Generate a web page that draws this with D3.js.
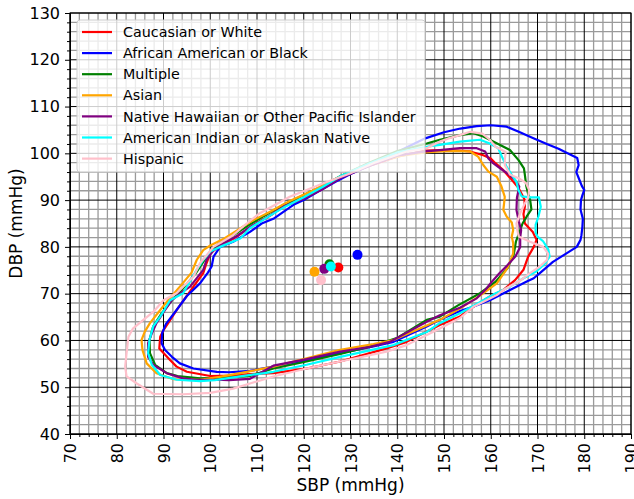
<!DOCTYPE html>
<html>
<head>
<meta charset="utf-8">
<script src="https://cdn.jsdelivr.net/npm/d3@7"></script>
<style>
  body { margin: 0; background: #fff; }
  text { font-family: "DejaVu Sans", sans-serif; fill: #000; }
</style>
</head>
<body>
<div id="chart"></div>
<script>
// groups in legend order
const groups = ['Caucasian or White', 'African American or Black', 'Multiple', 'Asian',
    'Native Hawaiian or Other Pacific Islander', 'American Indian or Alaskan Native', 'Hispanic']
const colors = ['#ff0000', '#0000ff', '#008000', '#ffa500', '#800080', '#00ffff', '#ffc0cb']

// contour outlines, [SBP, DBP]
const whiteContour = [[140,99.3],[146,100.6],[150,100.7],[153,100.6],[155.6,100.4],[158.4,99.6],[160,98.9],[161,97.9],[162.5,96.6],[164.1,94.8],[166,92.5],[167.2,90.2],[167.3,88.6],[167,87],[167.3,85],[169,83.2],[169.8,81.5],[169.2,80],[168,77.9],[167,75.1],[165.2,72.9],[162.7,70.8],[159.8,69.4],[156.3,67.2],[153.4,65.1],[149.1,63.3],[142,59.7],[137.7,58.3],[127.8,55.5],[120.6,54],[113.5,53],[108.5,52.8],[104,52.5],[100,52.4],[95,53.3],[92.8,54.4],[91.4,55.8],[90,57.3],[89.1,58.3],[89.3,60.8],[90,62.2],[91,63.7],[92.8,66.5],[96.4,71.5],[98.5,74.4],[99.2,76.5],[100,78.6],[102,80.2],[105,81.8],[108,83.8],[110.6,85.5],[113,86.8],[115.6,89],[119.2,90],[124.2,92.5],[127.8,95],[133,97]]
const blackContour = [[146,103.2],[150,104.5],[153.5,105.3],[157,105.8],[160,106],[163.4,105.7],[166,104.6],[169,103.3],[172,102],[174.5,101],[178.5,99],[178.8,97.5],[178.3,96],[178.7,95],[179.5,93],[180,92.2],[179.6,91],[179.3,90],[179.2,88],[179.7,86],[179.6,84.3],[179.4,82.5],[179.2,81.5],[178.4,80],[176.2,78.6],[173.3,76.8],[170.5,74.4],[169.2,73.3],[167.7,72.6],[163.4,70.4],[159.8,68.6],[156.2,67.2],[153.4,66.3],[149.1,64.4],[146.3,63],[139.2,59.7],[134.9,58.7],[127.8,57.3],[120.6,55.8],[117.1,55.1],[113.5,54.4],[108.5,53.5],[104,53.2],[101.4,53.3],[96.4,54],[93.5,55.1],[91.8,56.5],[90.3,58],[89.6,59.4],[89.7,61.5],[90.5,63.5],[92.8,66.5],[95,69.5],[97.8,72.2],[99.5,74.5],[100.3,75.8],[100.7,77.9],[102.1,80],[104.9,81.1],[108.5,83.2],[111,85],[113.5,86],[117.8,89],[120,90],[123,91.8],[127,94],[130,95.6],[135,97.8],[140,100.3]]
const multipleContour = [[149.1,102.9],[153.4,103.9],[156.3,104.3],[158.4,103.6],[160,102.8],[162,101.8],[164.1,100.7],[165.9,98.6],[167.1,96.8],[167.3,95.4],[167.6,93],[168,91.3],[168.4,90.2],[168.7,88],[167.7,86.5],[166.8,85],[166.3,83.6],[165.4,81.2],[164.9,78.3],[163.6,75.5],[161,72.5],[157.7,70.1],[153,67.5],[149.1,65.1],[146.3,64.4],[139.9,60.5],[134.9,58.9],[127.8,57.1],[120.6,55.5],[113.5,54],[108.5,52.4],[103,52],[97.8,51.9],[93,52.4],[90.7,53],[88.2,54.8],[87.1,57.3],[87,60.1],[87.8,63],[89.6,65.8],[91.8,68.6],[94.5,71.5],[97,74.5],[98.5,76.8],[100,79],[102,80.8],[105,82.5],[108,84.5],[111,86.3],[115,88.6],[119,90.6],[124,93],[128,95.2],[134,98],[140,100.5],[146.3,102.1]]
const asianContour = [[149.1,100.4],[152,100.5],[155.6,100.4],[157.3,99.3],[158.4,97.5],[159.5,96.1],[161.3,95],[162.3,92.9],[163,90.7],[162.7,87.9],[163.4,86.5],[164.5,85.2],[164.8,83.6],[164.5,82.2],[164.8,80.8],[164.8,78.6],[163.6,75.5],[161.3,72.2],[158,69.8],[153.4,66.8],[149.1,64.4],[146.3,63.2],[139.2,60.1],[134.9,59.2],[127.8,58],[120.6,56.2],[113.5,54.4],[106.4,53],[102,52.2],[97.8,51.6],[92.1,51.7],[88.5,53],[86.4,55.1],[85.5,58],[85.3,60.1],[86,61.9],[87.1,63.7],[89.3,66.5],[91,68.6],[93.5,71.5],[96,74.5],[97.1,77.2],[98.5,79.3],[100,80.3],[103,81.8],[106,83.7],[109,85.6],[113,87.6],[117,89.8],[121,91.6],[125,93.6],[129,95.6],[135,98],[141,99.5],[146,100.2]]
const nhpiContour = [[149.1,100.7],[153.4,101.1],[157,101.1],[158.8,100.4],[159.5,98.9],[160.5,97.9],[162.3,96.6],[164,95.4],[165.2,94.3],[166.1,92.9],[165.6,90.5],[165.5,87.9],[166,85.5],[166.5,83.6],[166.3,82],[166.3,80],[165.3,78],[163.5,76],[161.8,74.3],[160.2,72.5],[159,71],[157,69],[153.4,67],[149.1,65.4],[146.3,64],[138.4,59.7],[134,58.6],[127.8,57.6],[120.6,56],[113.5,54.6],[108.5,51.8],[104,51.5],[101.4,51.6],[97,51.6],[94.2,51.9],[90.7,53],[87.8,54.8],[86.7,56.5],[86.7,59.4],[87.5,61.5],[88.5,63.7],[90.3,66.5],[91.8,68.6],[93.5,70],[95.7,71.5],[98.5,75.1],[99.2,77.2],[100.7,79.3],[103,80.9],[106,82.5],[109,84.6],[112,86.2],[116,88.8],[120,90.3],[124,92.3],[128,94.8],[134,97.3],[140,99.5],[146,100.4]]
const aianContour = [[149.1,101.8],[153.4,102.5],[157.7,102.9],[159.8,102.1],[161.6,101.1],[162.3,99.5],[163.4,97.1],[164.5,95.4],[165.5,93.9],[165.9,92.2],[166.6,90.8],[168.5,90.6],[170.3,90.6],[170.7,88.6],[170.2,86.5],[169.6,84.7],[169.6,83],[170,82.2],[171.2,81.2],[172.3,79.5],[172.6,77.9],[171.5,76.3],[169.8,74.8],[167,73.3],[164.1,71.5],[160.5,69.8],[157,67.8],[153.4,65.8],[149.1,63.7],[146.3,61.8],[139.2,59],[127.8,56.5],[120.6,54.8],[113.5,53.3],[106.4,52.3],[101,51.5],[97.8,51.3],[92.8,51.6],[89.3,52.6],[87.5,54.8],[86.7,57.3],[87,60.1],[87.8,63],[89.3,65.1],[91.4,68.6],[94.2,70.1],[97.1,75.1],[98.5,77.2],[100,79],[102.1,80],[106.4,81.8],[108.5,84],[112,86.2],[116,88.6],[120,90.6],[124,92.8],[128,95.2],[134,97.8],[140,100.2],[146.3,101.4]]
const hispanicContour = [[149.1,102.5],[151,103.2],[153.4,103.9],[155.6,104.6],[158.2,104.2],[159.8,102.9],[161,101.4],[163.2,100.3],[163,98.6],[163,97.5],[164.1,95.5],[166.3,94.5],[167.5,93.7],[168.2,92.2],[168,90.5],[167.3,89.3],[166.3,87.2],[165.5,85],[165.7,83.5],[166,82.2],[168.4,81.1],[171.2,80],[172.3,78.5],[172,77.2],[170.5,75.8],[168.4,74.4],[166.3,72.8],[162.7,70.8],[161.3,69.7],[157.7,67.9],[156.3,67.2],[153.4,64.8],[149,62.5],[142,59],[137.7,57.6],[127.8,55.5],[120.6,54],[113.5,52.3],[108.5,50.8],[104.9,49.7],[100,48.8],[94.2,48.5],[87.8,48.6],[84.3,50.8],[82.1,52.3],[81.8,54.4],[82.1,57.3],[82.5,60.8],[83.5,62.6],[85.7,64.4],[87.8,66.1],[90,68.6],[92.8,70.1],[96.4,73.6],[97.8,76.5],[100.7,80],[104.9,82.5],[107.8,85],[110.6,87.2],[117,90.7],[124.2,93.6],[129.9,95.7],[134.9,97.9],[142,100.4],[146.3,101.1]]

// group means, [SBP, DBP]
const groupMeans = [[127.4,75.6],[131.5,78.3],[125.5,76.3],[122.3,74.7],[124.4,75.3],[125.8,75.8],[123.7,72.9]]

const contours = [whiteContour, blackContour, multipleContour, asianContour, nhpiContour, aianContour, hispanicContour]

const xTicks = d3.range(70, 191, 10)
const yTicks = d3.range(40, 131, 10)

let width = 634
let height = 499
let margin = { top: 13, right: 3, bottom: 65, left: 70 }

let svg = d3.select('#chart')
    .append('svg')
    .attr('width', width)
    .attr('height', height)

let xScale = d3.scaleLinear()
    .domain([70, 190])
    .range([margin.left, width - margin.right])

let yScale = d3.scaleLinear()
    .domain([40, 130])
    .range([height - margin.bottom, margin.top])

// grid: minor every 2, major every 10
let xMinor = d3.range(70, 191, 2).filter(d => d % 10 != 0)
let yMinor = d3.range(40, 131, 2).filter(d => d % 10 != 0)

let grid = svg.append('g')
grid.selectAll('.vminor').data(xMinor).join('line')
    .attr('x1', d => xScale(d)).attr('x2', d => xScale(d))
    .attr('y1', yScale(40)).attr('y2', yScale(130))
    .attr('stroke', '#9a9a9a').attr('stroke-width', 1.3)
grid.selectAll('.hminor').data(yMinor).join('line')
    .attr('y1', d => yScale(d)).attr('y2', d => yScale(d))
    .attr('x1', xScale(70)).attr('x2', xScale(190))
    .attr('stroke', '#9a9a9a').attr('stroke-width', 1.3)
grid.selectAll('.vmajor').data(xTicks).join('line')
    .attr('x1', d => xScale(d)).attr('x2', d => xScale(d))
    .attr('y1', yScale(40)).attr('y2', yScale(130))
    .attr('stroke', '#000').attr('stroke-width', 1)
grid.selectAll('.hmajor').data(yTicks).join('line')
    .attr('y1', d => yScale(d)).attr('y2', d => yScale(d))
    .attr('x1', xScale(70)).attr('x2', xScale(190))
    .attr('stroke', '#000').attr('stroke-width', 1)

// contours
let line = d3.line()
    .x(d => xScale(d[0]))
    .y(d => yScale(d[1]))
    .curve(d3.curveLinearClosed)

contours.forEach((c, i) => {
    svg.append('path')
        .datum(c)
        .attr('d', line)
        .attr('fill', 'none')
        .attr('stroke', colors[i])
        .attr('stroke-width', 2.2)
        .attr('stroke-linejoin', 'round')
})

svg.selectAll('.mean').data(groupMeans).join('circle')
    .attr('cx', d => xScale(d[0]))
    .attr('cy', d => yScale(d[1]))
    .attr('r', 5)
    .attr('fill', (d, i) => colors[i])

// axes
let xAxisEl = svg.append('g')
    .attr('transform', `translate(0,${yScale(40)})`)
    .call(d3.axisBottom(xScale).tickValues(xTicks).tickSize(5).tickPadding(4))
xAxisEl.selectAll('text')
    .attr('font-size', 16)
    .attr('text-anchor', 'end')
    .attr('transform', 'rotate(-90)')
    .attr('x', -9).attr('y', 0).attr('dy', '0.35em')
svg.append('g')
    .attr('transform', `translate(0,${yScale(40)})`)
    .call(d3.axisBottom(xScale).tickValues(xMinor).tickSize(3).tickFormat(''))

let yAxisEl = svg.append('g')
    .attr('transform', `translate(${xScale(70)},0)`)
    .call(d3.axisLeft(yScale).tickValues(yTicks).tickSize(5).tickPadding(5))
yAxisEl.selectAll('text').attr('font-size', 16)
svg.append('g')
    .attr('transform', `translate(${xScale(70)},0)`)
    .call(d3.axisLeft(yScale).tickValues(yMinor).tickSize(3).tickFormat(''))

svg.selectAll('.domain').attr('stroke', '#000')

// top and right spines
svg.append('rect')
    .attr('x', xScale(70)).attr('y', yScale(130))
    .attr('width', xScale(190) - xScale(70))
    .attr('height', yScale(40) - yScale(130))
    .attr('fill', 'none').attr('stroke', '#000').attr('stroke-width', 1)

svg.append('text')
    .attr('x', (xScale(70) + xScale(190)) / 2)
    .attr('y', 491)
    .attr('text-anchor', 'middle')
    .attr('font-size', 17)
    .text('SBP (mmHg)')

svg.append('text')
    .attr('transform', `translate(22,${(yScale(40) + yScale(130)) / 2}) rotate(-90)`)
    .attr('text-anchor', 'middle')
    .attr('font-size', 17)
    .text('DBP (mmHg)')

// legend
let legend = svg.append('g')
legend.append('rect')
    .attr('x', 77).attr('y', 20)
    .attr('width', 348).attr('height', 152)
    .attr('rx', 3)
    .attr('fill', 'rgba(255,255,255,0.8)')
    .attr('stroke', '#cccccc')

groups.forEach((g, i) => {
    let y = 32 + i * 21.1
    legend.append('line')
        .attr('x1', 82).attr('x2', 112)
        .attr('y1', y).attr('y2', y)
        .attr('stroke', colors[i]).attr('stroke-width', 2.2)
    legend.append('text')
        .attr('x', 123).attr('y', y)
        .attr('dy', '0.36em')
        .attr('font-size', 14.3)
        .text(g)
})
</script>
</body>
</html>
